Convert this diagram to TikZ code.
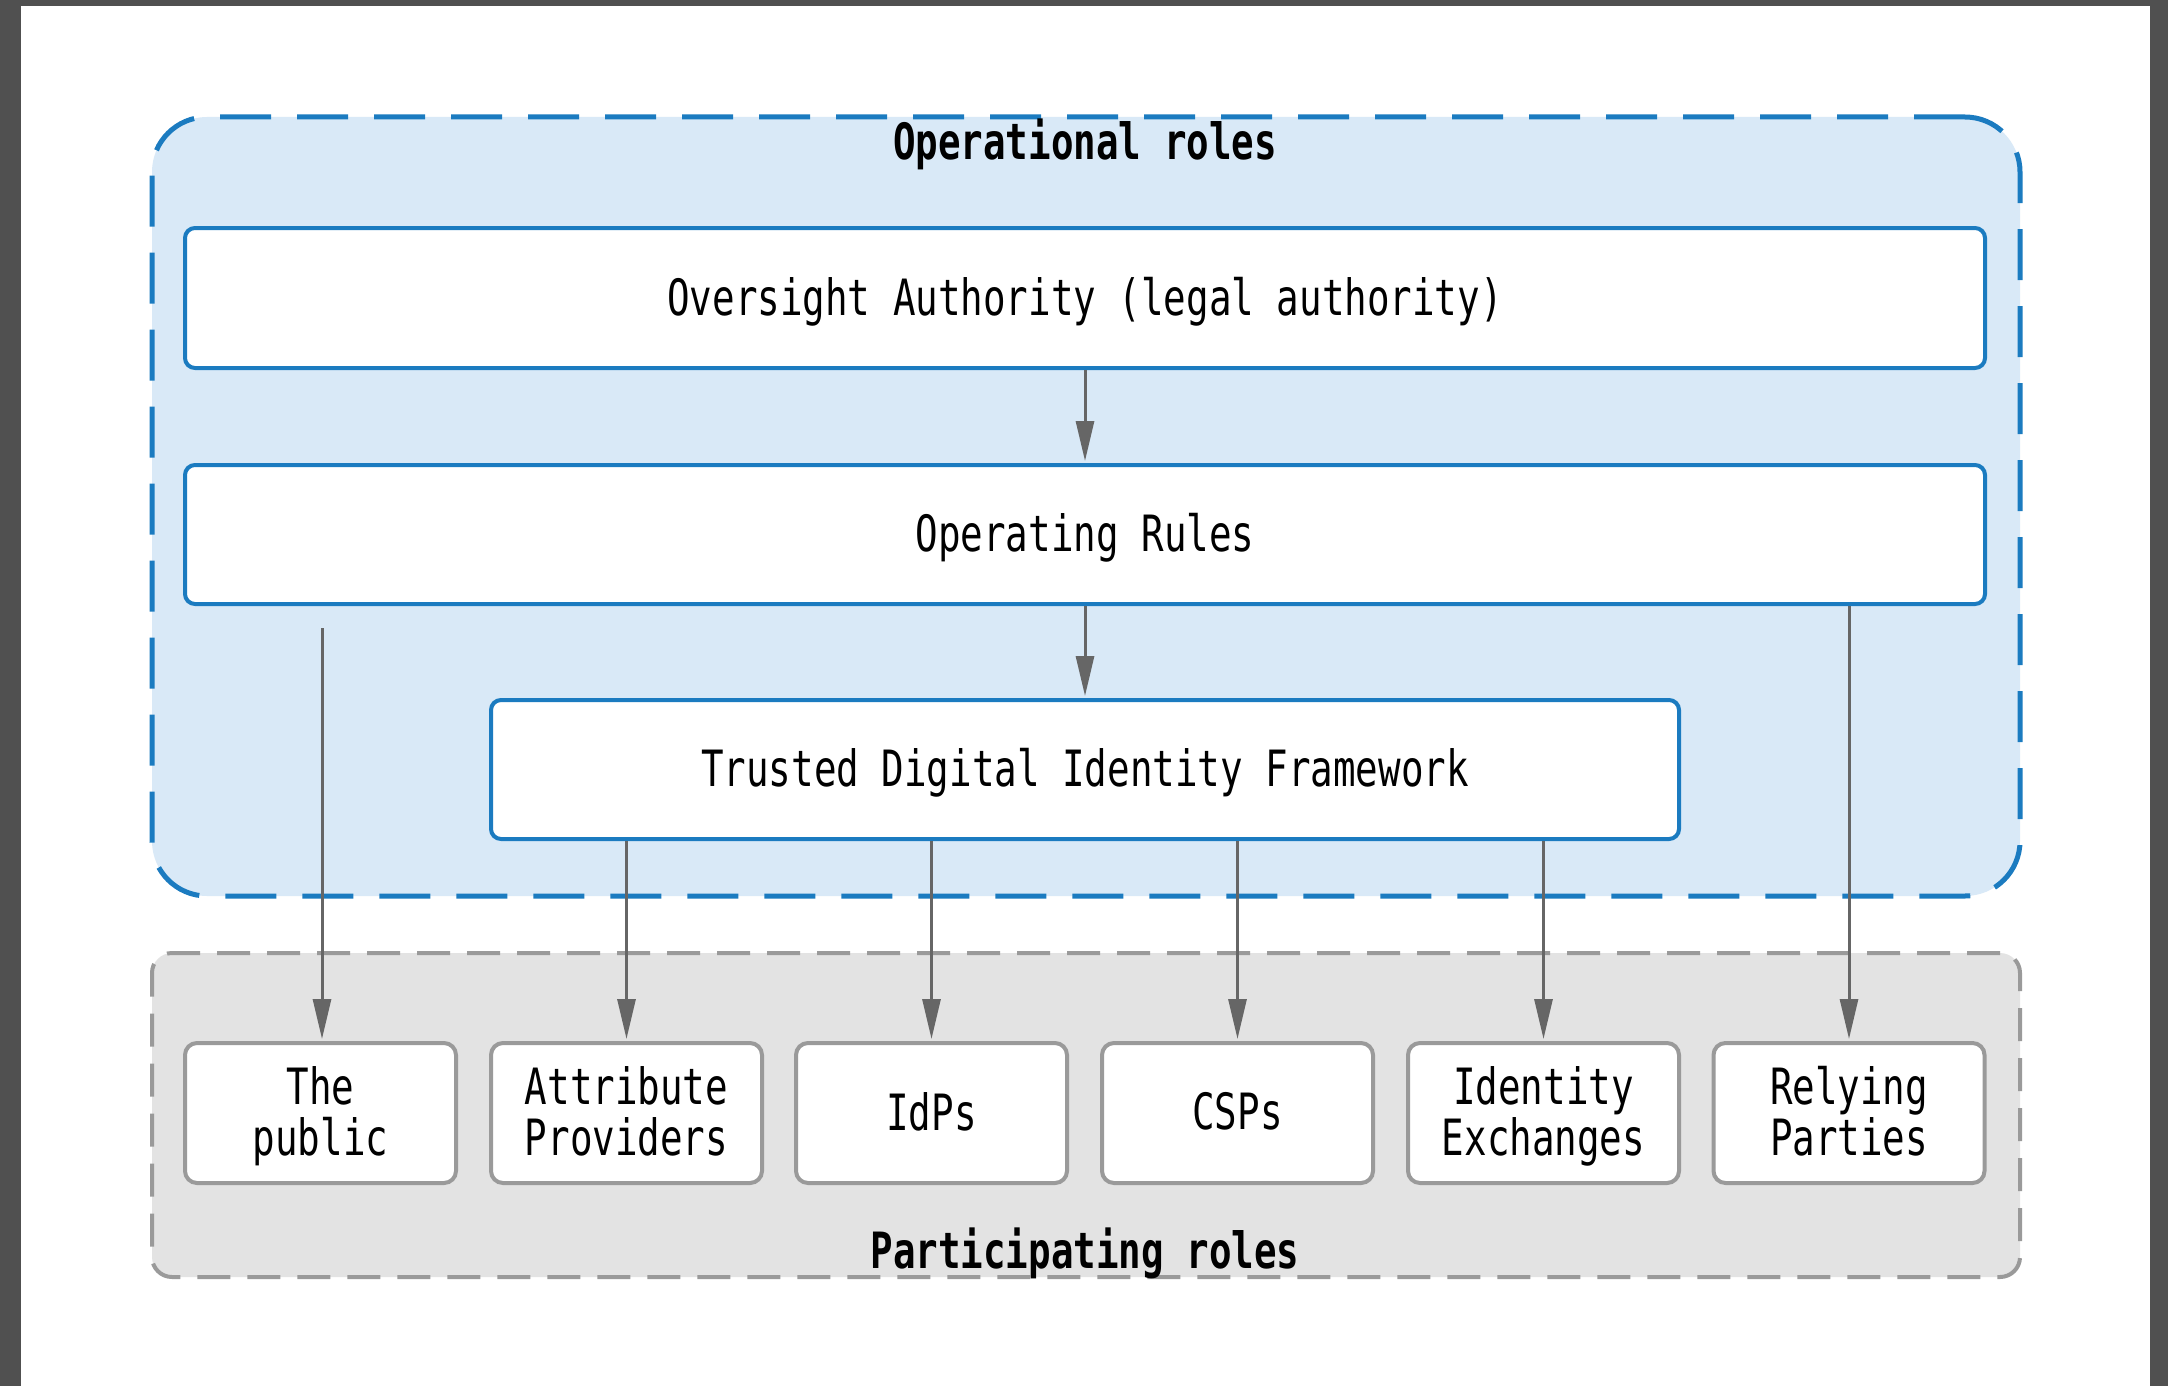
\documentclass[tikz,border=0pt]{standalone}
\usepackage{fontspec}
\usetikzlibrary{arrows.meta}
% Narrow monospaced face used for every label
\newfontfamily\diagmono[FakeStretch=0.75]{DejaVu Sans Mono}
\newcommand\diagfont{\diagmono\fontsize{50}{51}\selectfont}
\definecolor{frameblue}{HTML}{1B7BC0}
\definecolor{opfill}{HTML}{D9E9F7}
\definecolor{partfill}{HTML}{E3E3E3}
\definecolor{partline}{HTML}{9A9A9A}
\definecolor{flowgray}{HTML}{666666}
\definecolor{pageedge}{HTML}{505050}
\tikzset{
  opregion/.style={draw=frameblue, fill=opfill, line width=5pt,
    dash pattern=on 51pt off 26pt, rounded corners=55pt,
    minimum width=1868pt, minimum height=779pt, inner sep=0pt},
  partregion/.style={draw=partline, fill=partfill, line width=4pt,
    dash pattern=on 33pt off 17pt, rounded corners=20pt,
    minimum width=1868pt, minimum height=324pt, inner sep=0pt},
  rolebox/.style={draw=frameblue, fill=white, line width=4pt,
    rounded corners=10pt, minimum height=139pt, inner sep=0pt,
    text depth=4pt, font=\diagfont, text=black},
  partybox/.style={draw=partline, fill=white, line width=4pt,
    rounded corners=12pt, minimum width=271pt, minimum height=140pt,
    inner sep=0pt, text depth=4pt, align=center, font=\diagfont, text=black},
  regiontitle/.style={font=\diagfont\bfseries, text=black, anchor=base, inner sep=0pt},
  flow/.style={draw=flowgray, line width=3pt,
    -{Triangle[length=40pt,width=18pt]}, shorten >=2pt},
}
\begin{document}
\begin{tikzpicture}[x=1pt,y=-1pt]
\useasboundingbox (0,0) rectangle (2168,1386);
% page backdrop
\fill[pageedge] (0,0) rectangle (2168,1386);
\fill[white] (21,6) rectangle (2150,1386);

% role groups
\node[opregion]   (ops)  at (1086,506.5) {};
\node[partregion] (part) at (1086,1115) {};
\node[regiontitle] (opstitle)  at (1085,160)  {Operational roles};
\node[regiontitle] (parttitle) at (1085,1268) {Participating roles};

% operational roles
\node[rolebox, minimum width=1800pt, minimum height=140pt] (over)  at (1085,298)   {Oversight Authority (legal authority)};
\node[rolebox, minimum width=1800pt] (rules) at (1085,534.5) {Operating Rules};
\node[rolebox, minimum width=1188pt] (tdif)  at (1085,769.5) {Trusted Digital Identity Framework};

% participating roles
\node[partybox] (pub) at (320.5,1113)  {The\\public};
\node[partybox] (ap)  at (626.5,1113)  {Attribute\\Providers};
\node[partybox] (idp) at (931.5,1113)  {IdPs};
\node[partybox] (csp) at (1237.5,1113) {CSPs};
\node[partybox] (ix)  at (1543.5,1113) {Identity\\Exchanges};
\node[partybox] (rp)  at (1849,1113)   {Relying\\Parties};

% flows
\coordinate (pubsrc) at (322,628);
\draw[flow] (over.south) -- (rules.north);
\draw[flow] (rules.south) -- (tdif.north);
\draw[flow] (pubsrc) -- (pubsrc |- pub.north);
\draw[flow] (rules.south -| rp.north) -- (rp.north);
\foreach \p in {ap,idp,csp,ix}
  \draw[flow] (tdif.south -| \p.north) -- (\p.north);
\end{tikzpicture}
\end{document}
